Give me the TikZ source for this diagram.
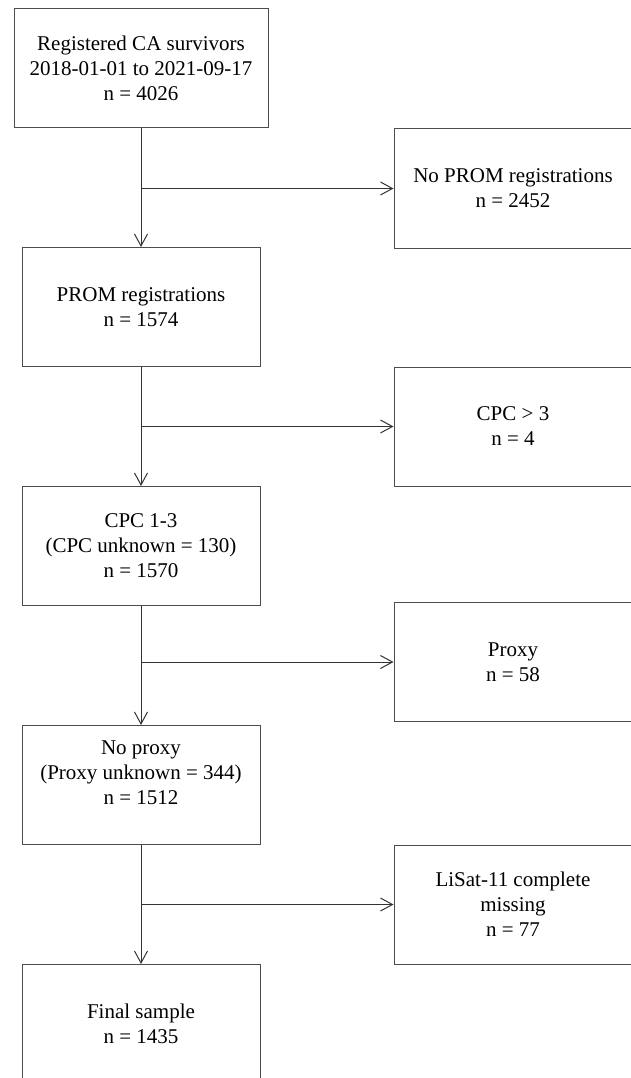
\documentclass[tikz,border=0pt]{standalone}
\usepackage{fontspec}
\setmainfont{Liberation Serif}
\usetikzlibrary{arrows.meta,positioning}

\begin{document}
\begin{tikzpicture}[
  x=1pt, y=-1pt,
  font=\fontsize{21}{25}\selectfont,
  box/.style={draw=black!70, line width=1pt, minimum width=238pt,
              minimum height=119pt, align=center, inner sep=0pt},
  ar/.style={draw=black!80, line width=1pt,
             -{Straight Barb[length=12pt, width=13pt]}}
]
\clip (0,0) rectangle (631,1078);
%--- main column --------------------------------------------------------------
\node[box, minimum width=254pt] (b1) at (141,68.5)
  {Registered CA survivors\\2018-01-01 to 2021-09-17\\n = 4026};
\node[box] (b2) at (141,307) {PROM registrations\\n = 1574};
\node[box] (b3) at (141,546) {CPC 1-3\\(CPC unknown = 130)\\n = 1570};
\node[box, text depth=24pt] (b4) at (141,785)
  {No proxy\\(Proxy unknown = 344)\\n = 1512};
\node[box] (b5) at (141,1024) {Final sample\\n = 1435};

%--- exclusions ---------------------------------------------------------------
\node[box] (r1) at (513,188.5) {No PROM registrations\\n = 2452};
\node[box] (r2) at (513,426.5) {CPC > 3\\n = 4};
\node[box] (r3) at (513,662) {Proxy\\n = 58};
\node[box] (r4) at (513,904.5) {LiSat-11 complete\\missing\\n = 77};

%--- connectors ---------------------------------------------------------------
\foreach \s/\d in {b1/b2,b2/b3,b3/b4,b4/b5} \draw[ar] (\s.south) -- (\d.north);
\foreach \s/\d in {b1/r1,b2/r2,b3/r3,b4/r4} \draw[ar] (\s.south|-\d.west) -- (\d.west);
\end{tikzpicture}
\end{document}
